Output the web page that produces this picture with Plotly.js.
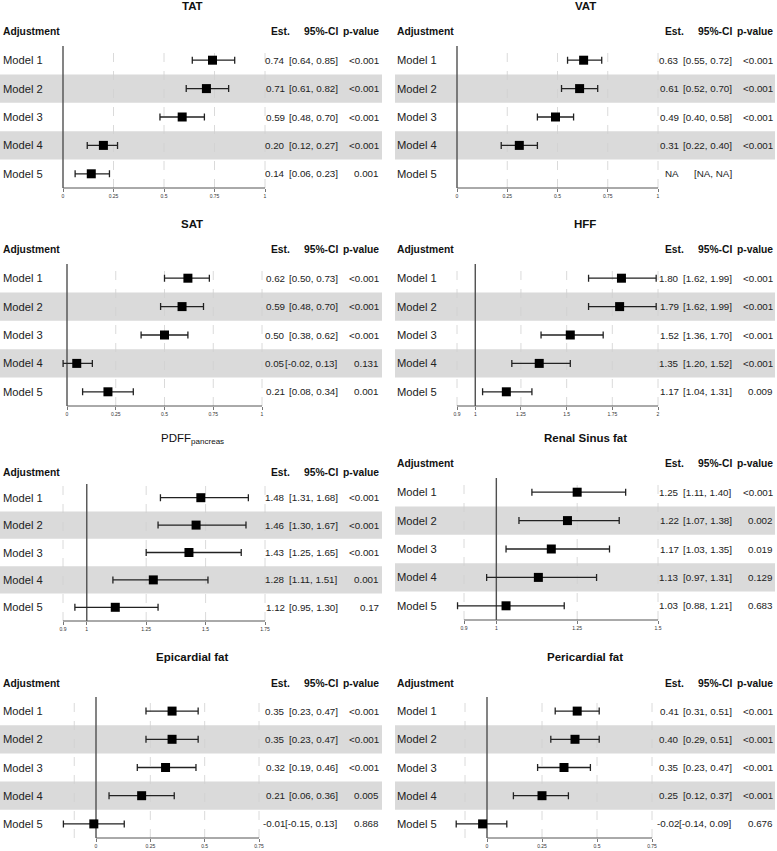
<!DOCTYPE html>
<html>
<head>
<meta charset="utf-8">
<script src="https://cdn.plot.ly/plotly-3.0.1.min.js"></script>
<style>html,body{margin:0;padding:0;background:#fff;}#chart{width:777px;height:851px;}</style>
</head>
<body>
<div id="chart"></div>
<script>
// ---------------- data ----------------
const models = ['Model 1', 'Model 2', 'Model 3', 'Model 4', 'Model 5'];
const headers = ['Adjustment', 'Est.', '95%-CI', 'p-value'];
const panelTitles = ['<b>TAT</b>', '<b>VAT</b>', '<b>SAT</b>', '<b>HFF</b>',
  'PDFF<sub>pancreas</sub>', '<b>Renal Sinus fat</b>', '<b>Epicardial fat</b>', '<b>Pericardial fat</b>'];

const tatEst = [0.74, 0.71, 0.59, 0.20, 0.14];
const tatLo  = [0.64, 0.61, 0.48, 0.12, 0.06];
const tatHi  = [0.85, 0.82, 0.70, 0.27, 0.23];
const tatP   = ['<0.001', '<0.001', '<0.001', '<0.001', '0.001'];

const vatEst = [0.63, 0.61, 0.49, 0.31, null];
const vatLo  = [0.55, 0.52, 0.40, 0.22, null];
const vatHi  = [0.72, 0.70, 0.58, 0.40, null];
const vatP   = ['<0.001', '<0.001', '<0.001', '<0.001', ''];

const satEst = [0.62, 0.59, 0.50, 0.05, 0.21];
const satLo  = [0.50, 0.48, 0.38, -0.02, 0.08];
const satHi  = [0.73, 0.70, 0.62, 0.13, 0.34];
const satP   = ['<0.001', '<0.001', '<0.001', '0.131', '0.001'];

const hffEst = [1.80, 1.79, 1.52, 1.35, 1.17];
const hffLo  = [1.62, 1.62, 1.36, 1.20, 1.04];
const hffHi  = [1.99, 1.99, 1.70, 1.52, 1.31];
const hffP   = ['<0.001', '<0.001', '<0.001', '<0.001', '0.009'];

const pdffEst = [1.48, 1.46, 1.43, 1.28, 1.12];
const pdffLo  = [1.31, 1.30, 1.25, 1.11, 0.95];
const pdffHi  = [1.68, 1.67, 1.65, 1.51, 1.30];
const pdffP   = ['<0.001', '<0.001', '<0.001', '0.001', '0.17'];

const renalEst = [1.25, 1.22, 1.17, 1.13, 1.03];
const renalLo  = [1.11, 1.07, 1.03, 0.97, 0.88];
const renalHi  = [1.40, 1.38, 1.35, 1.31, 1.21];
const renalP   = ['<0.001', '0.002', '0.019', '0.129', '0.683'];

const epiEst = [0.35, 0.35, 0.32, 0.21, -0.01];
const epiLo  = [0.23, 0.23, 0.19, 0.06, -0.15];
const epiHi  = [0.47, 0.47, 0.46, 0.36, 0.13];
const epiP   = ['<0.001', '<0.001', '<0.001', '0.005', '0.868'];

const periEst = [0.41, 0.40, 0.35, 0.25, -0.02];
const periLo  = [0.31, 0.29, 0.23, 0.12, -0.14];
const periHi  = [0.51, 0.51, 0.47, 0.37, 0.09];
const periP   = ['<0.001', '<0.001', '<0.001', '<0.001', '0.676'];

const ticksUnit  = [0, 0.25, 0.5, 0.75, 1];
const ticksHFF   = [0.9, 1, 1.25, 1.5, 1.75, 2];
const ticksPDFF  = [0.9, 1, 1.25, 1.5, 1.75];
const ticksRenal = [0.9, 1, 1.25, 1.5];
const ticksCard  = [0, 0.25, 0.5, 0.75];

const gridUnit  = [0.25, 0.5, 0.75, 1];
const gridHFF   = [0.9, 1.25, 1.5, 1.75, 2];
const gridPDFF  = [0.9, 1.25, 1.5, 1.75];
const gridRenal = [0.9, 1.25, 1.5];
const gridCard  = [-0.1, 0.25, 0.5, 0.75];

const refZero = 0, refOne = 1;

// ---------------- layout geometry (pixels) ----------------
const W = 777, H = 851;
const xp = px => px / W;
const yp = py => 1 - py / H;

const L = {left: 0, right: 382, lab: 1, estR: 287, ciR: 340, pR: 381, estH: 269, titleX: 192};
const R = {left: 395, right: 775, lab: 395, estR: 681, ciR: 734, pR: 775, estH: 663, titleX: 585};

const panels = [
  {col: L, est: tatEst, lo: tatLo, hi: tatHi, p: tatP, ticks: ticksUnit, grid: gridUnit, ref: refZero,
   titleY: 6, headY: 32, top: 46, bot: 188, v0: 0, p0: 63, v1: 1, p1: 265, rng: [-0.05, 1.05]},
  {col: R, est: vatEst, lo: vatLo, hi: vatHi, p: vatP, ticks: ticksUnit, grid: gridUnit, ref: refZero,
   titleY: 6, headY: 32, top: 46, bot: 188, v0: 0, p0: 457, v1: 1, p1: 658, rng: [-0.05, 1.05]},
  {col: L, est: satEst, lo: satLo, hi: satHi, p: satP, ticks: ticksUnit, grid: gridUnit, ref: refZero,
   titleY: 224, headY: 249.5, top: 264, bot: 406, v0: 0, p0: 67, v1: 1, p1: 262, rng: [-0.06, 1.05]},
  {col: R, est: hffEst, lo: hffLo, hi: hffHi, p: hffP, ticks: ticksHFF, grid: gridHFF, ref: refOne,
   titleY: 224, headY: 249.5, top: 264, bot: 406, v0: 0.9, p0: 457, v1: 2, p1: 658, rng: [0.86, 2.04]},
  {col: L, est: pdffEst, lo: pdffLo, hi: pdffHi, p: pdffP, ticks: ticksPDFF, grid: gridPDFF, ref: refOne,
   titleY: 439, headY: 472, top: 484, bot: 621, v0: 0.9, p0: 63, v1: 1.75, p1: 265, rng: [0.86, 1.79]},
  {col: R, est: renalEst, lo: renalLo, hi: renalHi, p: renalP, ticks: ticksRenal, grid: gridRenal, ref: refOne,
   titleY: 438, headY: 464, top: 478, bot: 620, v0: 0.9, p0: 464, v1: 1.5, p1: 658, rng: [0.85, 1.54]},
  {col: L, est: epiEst, lo: epiLo, hi: epiHi, p: epiP, ticks: ticksCard, grid: gridCard, ref: refZero,
   titleY: 657, headY: 683, top: 697, bot: 838, v0: 0, p0: 96, v1: 0.75, p1: 259, rng: [-0.2, 0.79]},
  {col: R, est: periEst, lo: periLo, hi: periHi, p: periP, ticks: ticksCard, grid: gridCard, ref: refZero,
   titleY: 657, headY: 683, top: 697, bot: 838, v0: 0, p0: 487, v1: 0.75, p1: 652, rng: [-0.2, 0.79]}
];

const FONT = 'Liberation Sans, Arial, Helvetica, sans-serif';
const traces = [], shapes = [], annotations = [];
const layout = {
  width: W, height: H, margin: {l: 0, r: 0, t: 0, b: 0},
  paper_bgcolor: '#ffffff', plot_bgcolor: 'rgba(0,0,0,0)',
  showlegend: false, font: {family: FONT, color: '#222'}
};

const fmt = v => (v === null ? 'NA' : v.toFixed(2));

panels.forEach((P, k) => {
  const n = k + 1;
  const xa = 'x' + (n === 1 ? '' : n), ya = 'y' + (n === 1 ? '' : n);
  const xaKey = 'xaxis' + (n === 1 ? '' : n), yaKey = 'yaxis' + (n === 1 ? '' : n);
  const scale = (P.p1 - P.p0) / (P.v1 - P.v0);
  const dpx0 = P.p0 + (P.rng[0] - P.v0) * scale;
  const dpx1 = P.p0 + (P.rng[1] - P.v0) * scale;

  layout[xaKey] = {
    domain: [xp(dpx0), xp(dpx1)], range: P.rng, anchor: ya,
    showgrid: false, zeroline: false, showline: false,
    tickmode: 'array', tickvals: P.ticks, ticktext: P.ticks.map(v => String(v)),
    ticks: 'outside', ticklen: 3, tickwidth: 0.8, tickcolor: '#555',
    tickfont: {size: 5, color: '#333', family: FONT}, fixedrange: true
  };
  layout[yaKey] = {
    domain: [yp(P.bot), yp(P.top)], type: 'category', range: [4.5, -0.5], anchor: xa,
    showgrid: false, zeroline: false, showline: false, showticklabels: false, ticks: '',
    fixedrange: true
  };

  // shaded rows (Model 2 and Model 4)
  [1, 3].forEach(i => shapes.push({
    type: 'rect', layer: 'below', xref: 'paper', yref: ya,
    x0: xp(P.col.left), x1: xp(P.col.right), y0: i - 0.5, y1: i + 0.5,
    fillcolor: '#dadada', line: {width: 0}
  }));
  // dashed grid
  P.grid.forEach(g => shapes.push({
    type: 'line', layer: 'below', xref: xa, yref: 'paper',
    x0: g, x1: g, y0: yp(P.bot), y1: yp(P.top),
    line: {color: '#d0d0d0', width: 0.8, dash: 'dash'}
  }));
  // reference line
  shapes.push({
    type: 'line', layer: 'below', xref: xa, yref: 'paper',
    x0: P.ref, x1: P.ref, y0: yp(P.bot), y1: yp(P.top),
    line: {color: '#505050', width: 1.4}
  });
  // x axis line
  shapes.push({
    type: 'line', layer: 'below', xref: xa, yref: 'paper',
    x0: P.ticks[0], x1: P.ticks[P.ticks.length - 1], y0: yp(P.bot), y1: yp(P.bot),
    line: {color: '#555', width: 1}
  });

  traces.push({
    type: 'scatter', mode: 'markers', xaxis: xa, yaxis: ya,
    x: P.est, y: models,
    marker: {symbol: 'square', size: 9, color: '#000'},
    error_x: {
      type: 'data', symmetric: false,
      array: P.est.map((e, i) => (e === null ? null : P.hi[i] - e)),
      arrayminus: P.est.map((e, i) => (e === null ? null : e - P.lo[i])),
      color: '#222', thickness: 1.3, width: 3.5
    },
    hoverinfo: 'skip', cliponaxis: false
  });

  // title
  annotations.push({
    xref: 'paper', yref: 'paper', x: xp(P.col.titleX), y: yp(P.titleY),
    xanchor: 'center', yanchor: 'middle', showarrow: false,
    text: panelTitles[k], font: {size: 11.5, color: '#111', family: FONT}
  });
  // headers
  const hdr = [
    {t: headers[0], x: P.col.lab, a: 'left'},
    {t: headers[1], x: P.col.estH, a: 'left'},
    {t: headers[2], x: P.col.ciR, a: 'right'},
    {t: headers[3], x: P.col.pR, a: 'right'}
  ];
  hdr.forEach(h => annotations.push({
    xref: 'paper', yref: 'paper', x: xp(h.x), y: yp(P.headY),
    xanchor: h.a, yanchor: 'middle', showarrow: false,
    text: '<b>' + h.t + '</b>', font: {size: 10.3, color: '#111', family: FONT}
  }));
  // rows
  models.forEach((m, i) => {
    const labFont = {size: 11.2, color: '#222', family: FONT};
    const valFont = {size: 9.8, color: '#222', family: FONT};
    annotations.push({xref: 'paper', yref: ya, x: xp(P.col.lab), y: i, xanchor: 'left', yanchor: 'middle',
      showarrow: false, text: m, font: labFont});
    annotations.push({xref: 'paper', yref: ya, x: xp(P.col.estR), y: i, xanchor: 'right', yanchor: 'middle',
      showarrow: false, text: fmt(P.est[i]), font: valFont});
    annotations.push({xref: 'paper', yref: ya, x: xp(P.col.ciR), y: i, xanchor: 'right', yanchor: 'middle',
      showarrow: false, text: '[' + fmt(P.lo[i]) + ', ' + fmt(P.hi[i]) + ']', font: valFont});
    if (P.p[i] !== '') {
      annotations.push({xref: 'paper', yref: ya, x: xp(P.col.pR), y: i, xanchor: 'right', yanchor: 'middle',
        showarrow: false, text: P.p[i], font: valFont});
    }
  });
});

layout.shapes = shapes;
layout.annotations = annotations;

Plotly.newPlot('chart', traces, layout, {staticPlot: true, displayModeBar: false});
</script>
</body>
</html>
